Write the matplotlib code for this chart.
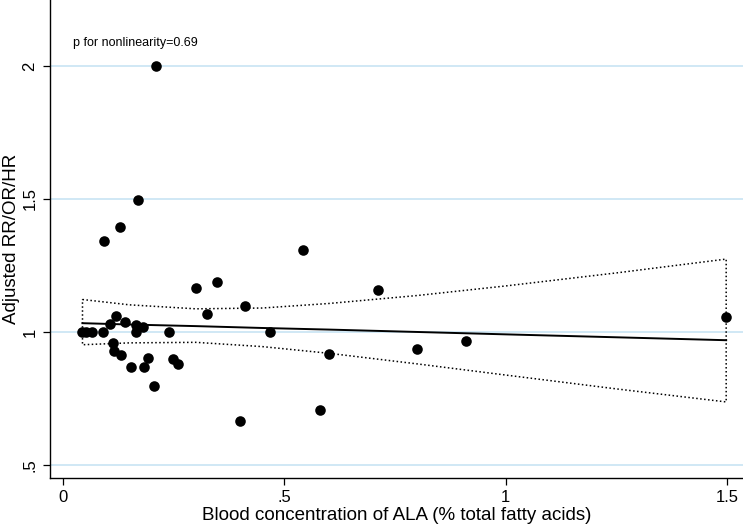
"""Meta-regression plot - blood ALA vs adjusted RR/OR/HR."""

import matplotlib
matplotlib.use('Agg')
import matplotlib.pyplot as plt

plt.rcParams['font.family'] = ['Liberation Sans', 'DejaVu Sans']

COLORS = {
    'point': '#000000',
    'fit': '#000000',
    'ci': '#000000',
    'grid': '#cde6f5',
    'text': '#000000',
}

# study estimates (x = ALA % total fatty acids, y = adjusted ratio)
ala = [0.043, 0.052, 0.066, 0.090, 0.093, 0.106, 0.114, 0.115, 0.120, 0.129,
       0.131, 0.140, 0.154, 0.165, 0.165, 0.170, 0.180, 0.184, 0.193, 0.205,
       0.210, 0.240, 0.248, 0.260, 0.300, 0.325, 0.348, 0.400, 0.410, 0.467,
       0.541, 0.581, 0.601, 0.711, 0.800, 0.910, 1.498]
ratio = [1.0, 1.0, 1.0, 1.0, 1.342, 1.029, 0.959, 0.927, 1.059, 1.396,
         0.913, 1.038, 0.869, 1.027, 1.0, 1.496, 1.018, 0.869, 0.901, 0.797,
         2.0, 1.0, 0.900, 0.879, 1.167, 1.068, 1.188, 0.667, 1.097, 1.0,
         1.307, 0.707, 0.918, 1.157, 0.937, 0.966, 1.057]

# fitted line and 95% CI
fit_x = [0.044, 0.15, 0.30, 0.45, 0.60, 0.80, 1.00, 1.25, 1.498]
fit_y = [1.033, 1.028, 1.022, 1.015, 1.009, 1.000, 0.991, 0.980, 0.969]
ci_hi = [1.122, 1.102, 1.087, 1.090, 1.107, 1.137, 1.173, 1.222, 1.274]
ci_lo = [0.952, 0.959, 0.961, 0.945, 0.920, 0.880, 0.838, 0.786, 0.737]

x_ticks = [0, 0.5, 1, 1.5]
x_ticklabels = ['0', '.5', '1', '1.5']
y_ticks = [0.5, 1, 1.5, 2]
y_ticklabels = ['.5', '1', '1.5', '2']

fig = plt.figure(figsize=(7.43, 5.28), dpi=100)
fig.patch.set_facecolor('white')
ax = fig.add_axes([50 / 743, 50 / 528, 693 / 743, 478 / 528])

for yv in y_ticks:
    ax.axhline(y=yv, color=COLORS['grid'], linewidth=1.3, zorder=0)

# CI drawn as one closed dotted outline
outline_x = fit_x + fit_x[::-1] + [fit_x[0]]
outline_y = ci_hi + ci_lo[::-1] + [ci_hi[0]]
ax.plot(outline_x, outline_y, color=COLORS['ci'], linewidth=1.1,
        linestyle=(0, (1, 1.6)), zorder=2)
ax.plot(fit_x, fit_y, color=COLORS['fit'], linewidth=1.4, zorder=3)

ax.scatter(ala, ratio, s=58, color=COLORS['point'], linewidths=0, zorder=4)

ax.text(0.023, 2.088, 'p for nonlinearity=0.69', fontsize=9,
        color=COLORS['text'], ha='left', va='center')

ax.set_xlim(-0.0294, 1.536)
ax.set_ylim(0.451, 2.248)
ax.set_xticks(x_ticks)
ax.set_xticklabels(x_ticklabels)
ax.set_yticks(y_ticks)
ax.set_yticklabels(y_ticklabels, rotation=90, va='center')
ax.tick_params(axis='both', direction='out', length=5, width=0.9,
               labelsize=12, pad=4)

for side in ['top', 'right']:
    ax.spines[side].set_visible(False)
for side in ['left', 'bottom']:
    ax.spines[side].set_linewidth(1.0)

ax.set_xlabel('Blood concentration of ALA (% total fatty acids)', fontsize=13.5, labelpad=1)
ax.set_ylabel('Adjusted RR/OR/HR', fontsize=13.5, labelpad=2)

fig.savefig('out.png', dpi=100, facecolor='white')
plt.close(fig)
